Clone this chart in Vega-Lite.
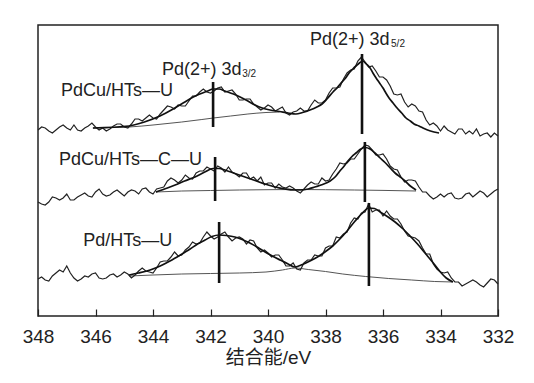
{
  "$schema": "https://vega.github.io/schema/vega-lite/v6.json",
  "width": 460,
  "height": 291,
  "autosize": {"type": "none"},
  "padding": {"left": 38, "top": 25, "right": 36, "bottom": 67},
  "background": "white",
  "config": {
    "view": {"stroke": "#222", "strokeWidth": 1.5},
    "font": "Liberation Sans"
  },
  "datasets": {
    "raw": [
      {"c":"a","e":348.000,"y":186},{"c":"a","e":347.875,"y":189},{"c":"a","e":347.750,"y":188},{"c":"a","e":347.625,"y":185},{"c":"a","e":347.500,"y":183},{"c":"a","e":347.375,"y":186},{"c":"a","e":347.250,"y":189},{"c":"a","e":347.125,"y":191},{"c":"a","e":347.000,"y":188},{"c":"a","e":346.875,"y":186},
      {"c":"a","e":346.750,"y":191},{"c":"a","e":346.625,"y":186},{"c":"a","e":346.500,"y":185},{"c":"a","e":346.375,"y":188},{"c":"a","e":346.250,"y":190},{"c":"a","e":346.125,"y":193},{"c":"a","e":346.000,"y":189},{"c":"a","e":345.875,"y":186},{"c":"a","e":345.750,"y":188},{"c":"a","e":345.625,"y":185},
      {"c":"a","e":345.500,"y":187},{"c":"a","e":345.375,"y":190},{"c":"a","e":345.250,"y":192},{"c":"a","e":345.125,"y":192},{"c":"a","e":345.000,"y":189},{"c":"a","e":344.875,"y":188},{"c":"a","e":344.750,"y":192},{"c":"a","e":344.625,"y":197},{"c":"a","e":344.500,"y":197},{"c":"a","e":344.375,"y":195},
      {"c":"a","e":344.250,"y":198},{"c":"a","e":344.125,"y":201},{"c":"a","e":344.000,"y":198},{"c":"a","e":343.875,"y":197},{"c":"a","e":343.750,"y":202},{"c":"a","e":343.625,"y":206},{"c":"a","e":343.500,"y":210},{"c":"a","e":343.375,"y":209},{"c":"a","e":343.250,"y":207},{"c":"a","e":343.125,"y":211},
      {"c":"a","e":343.000,"y":210},{"c":"a","e":342.875,"y":210},{"c":"a","e":342.750,"y":215},{"c":"a","e":342.625,"y":220},{"c":"a","e":342.500,"y":220},{"c":"a","e":342.375,"y":224},{"c":"a","e":342.250,"y":227},{"c":"a","e":342.125,"y":224},{"c":"a","e":342.000,"y":223},{"c":"a","e":341.875,"y":225},
      {"c":"a","e":341.750,"y":228},{"c":"a","e":341.625,"y":229},{"c":"a","e":341.500,"y":224},{"c":"a","e":341.375,"y":225},{"c":"a","e":341.250,"y":226},{"c":"a","e":341.125,"y":222},{"c":"a","e":341.000,"y":216},{"c":"a","e":340.875,"y":216},{"c":"a","e":340.750,"y":217},{"c":"a","e":340.625,"y":217},
      {"c":"a","e":340.500,"y":212},{"c":"a","e":340.375,"y":209},{"c":"a","e":340.250,"y":206},{"c":"a","e":340.125,"y":208},{"c":"a","e":340.000,"y":211},{"c":"a","e":339.875,"y":209},{"c":"a","e":339.750,"y":205},{"c":"a","e":339.625,"y":207},{"c":"a","e":339.500,"y":209},{"c":"a","e":339.375,"y":203},
      {"c":"a","e":339.250,"y":201},{"c":"a","e":339.125,"y":204},{"c":"a","e":339.000,"y":205},{"c":"a","e":338.875,"y":208},{"c":"a","e":338.750,"y":205},{"c":"a","e":338.625,"y":205},{"c":"a","e":338.500,"y":211},{"c":"a","e":338.375,"y":216},{"c":"a","e":338.250,"y":213},{"c":"a","e":338.125,"y":213},
      {"c":"a","e":338.000,"y":216},{"c":"a","e":337.875,"y":223},{"c":"a","e":337.750,"y":228},{"c":"a","e":337.625,"y":228},{"c":"a","e":337.500,"y":229},{"c":"a","e":337.375,"y":237},{"c":"a","e":337.250,"y":243},{"c":"a","e":337.125,"y":246},{"c":"a","e":337.000,"y":247},{"c":"a","e":336.875,"y":255},
      {"c":"a","e":336.750,"y":259},{"c":"a","e":336.625,"y":254},{"c":"a","e":336.500,"y":249},{"c":"a","e":336.375,"y":250},{"c":"a","e":336.250,"y":245},{"c":"a","e":336.125,"y":239},{"c":"a","e":336.000,"y":239},{"c":"a","e":335.875,"y":236},{"c":"a","e":335.750,"y":230},{"c":"a","e":335.625,"y":222},
      {"c":"a","e":335.500,"y":221},{"c":"a","e":335.375,"y":222},{"c":"a","e":335.250,"y":214},{"c":"a","e":335.125,"y":209},{"c":"a","e":335.000,"y":212},{"c":"a","e":334.875,"y":210},{"c":"a","e":334.750,"y":205},{"c":"a","e":334.625,"y":204},{"c":"a","e":334.500,"y":196},{"c":"a","e":334.375,"y":191},
      {"c":"a","e":334.250,"y":193},{"c":"a","e":334.125,"y":190},{"c":"a","e":334.000,"y":185},{"c":"a","e":333.875,"y":190},{"c":"a","e":333.750,"y":186},{"c":"a","e":333.625,"y":184},{"c":"a","e":333.500,"y":182},{"c":"a","e":333.375,"y":187},{"c":"a","e":333.250,"y":187},{"c":"a","e":333.125,"y":182},
      {"c":"a","e":333.000,"y":185},{"c":"a","e":332.875,"y":182},{"c":"a","e":332.750,"y":187},{"c":"a","e":332.625,"y":180},{"c":"a","e":332.500,"y":182},{"c":"a","e":332.375,"y":183},{"c":"a","e":332.250,"y":179},{"c":"a","e":332.125,"y":183},{"c":"a","e":332.000,"y":180},
      {"c":"b","e":348.000,"y":114},{"c":"b","e":347.875,"y":112},{"c":"b","e":347.750,"y":111},{"c":"b","e":347.625,"y":114},{"c":"b","e":347.500,"y":119},{"c":"b","e":347.375,"y":118},{"c":"b","e":347.250,"y":116},{"c":"b","e":347.125,"y":118},{"c":"b","e":347.000,"y":122},{"c":"b","e":346.875,"y":116},
      {"c":"b","e":346.750,"y":116},{"c":"b","e":346.625,"y":119},{"c":"b","e":346.500,"y":121},{"c":"b","e":346.375,"y":123},{"c":"b","e":346.250,"y":120},{"c":"b","e":346.125,"y":119},{"c":"b","e":346.000,"y":124},{"c":"b","e":345.875,"y":127},{"c":"b","e":345.750,"y":122},{"c":"b","e":345.625,"y":120},
      {"c":"b","e":345.500,"y":121},{"c":"b","e":345.375,"y":124},{"c":"b","e":345.250,"y":126},{"c":"b","e":345.125,"y":123},{"c":"b","e":345.000,"y":120},{"c":"b","e":344.875,"y":124},{"c":"b","e":344.750,"y":126},{"c":"b","e":344.625,"y":125},{"c":"b","e":344.500,"y":122},{"c":"b","e":344.375,"y":127},
      {"c":"b","e":344.250,"y":128},{"c":"b","e":344.125,"y":124},{"c":"b","e":344.000,"y":122},{"c":"b","e":343.875,"y":127},{"c":"b","e":343.750,"y":128},{"c":"b","e":343.625,"y":129},{"c":"b","e":343.500,"y":135},{"c":"b","e":343.375,"y":138},{"c":"b","e":343.250,"y":136},{"c":"b","e":343.125,"y":133},
      {"c":"b","e":343.000,"y":136},{"c":"b","e":342.875,"y":141},{"c":"b","e":342.750,"y":138},{"c":"b","e":342.625,"y":137},{"c":"b","e":342.500,"y":143},{"c":"b","e":342.375,"y":145},{"c":"b","e":342.250,"y":145},{"c":"b","e":342.125,"y":149},{"c":"b","e":342.000,"y":147},{"c":"b","e":341.875,"y":145},
      {"c":"b","e":341.750,"y":150},{"c":"b","e":341.625,"y":148},{"c":"b","e":341.500,"y":144},{"c":"b","e":341.375,"y":149},{"c":"b","e":341.250,"y":144},{"c":"b","e":341.125,"y":142},{"c":"b","e":341.000,"y":139},{"c":"b","e":340.875,"y":143},{"c":"b","e":340.750,"y":143},{"c":"b","e":340.625,"y":137},
      {"c":"b","e":340.500,"y":139},{"c":"b","e":340.375,"y":135},{"c":"b","e":340.250,"y":139},{"c":"b","e":340.125,"y":131},{"c":"b","e":340.000,"y":133},{"c":"b","e":339.875,"y":133},{"c":"b","e":339.750,"y":128},{"c":"b","e":339.625,"y":132},{"c":"b","e":339.500,"y":129},{"c":"b","e":339.375,"y":128},
      {"c":"b","e":339.250,"y":130},{"c":"b","e":339.125,"y":128},{"c":"b","e":339.000,"y":125},{"c":"b","e":338.875,"y":123},{"c":"b","e":338.750,"y":127},{"c":"b","e":338.625,"y":131},{"c":"b","e":338.500,"y":134},{"c":"b","e":338.375,"y":132},{"c":"b","e":338.250,"y":132},{"c":"b","e":338.125,"y":138},
      {"c":"b","e":338.000,"y":135},{"c":"b","e":337.875,"y":136},{"c":"b","e":337.750,"y":142},{"c":"b","e":337.625,"y":147},{"c":"b","e":337.500,"y":153},{"c":"b","e":337.375,"y":152},{"c":"b","e":337.250,"y":153},{"c":"b","e":337.125,"y":157},{"c":"b","e":337.000,"y":157},{"c":"b","e":336.875,"y":162},
      {"c":"b","e":336.750,"y":167},{"c":"b","e":336.625,"y":171},{"c":"b","e":336.500,"y":170},{"c":"b","e":336.375,"y":166},{"c":"b","e":336.250,"y":161},{"c":"b","e":336.125,"y":161},{"c":"b","e":336.000,"y":162},{"c":"b","e":335.875,"y":157},{"c":"b","e":335.750,"y":150},{"c":"b","e":335.625,"y":147},
      {"c":"b","e":335.500,"y":146},{"c":"b","e":335.375,"y":139},{"c":"b","e":335.250,"y":134},{"c":"b","e":335.125,"y":136},{"c":"b","e":335.000,"y":136},{"c":"b","e":334.875,"y":135},{"c":"b","e":334.750,"y":129},{"c":"b","e":334.625,"y":124},{"c":"b","e":334.500,"y":124},{"c":"b","e":334.375,"y":120},
      {"c":"b","e":334.250,"y":117},{"c":"b","e":334.125,"y":119},{"c":"b","e":334.000,"y":122},{"c":"b","e":333.875,"y":119},{"c":"b","e":333.750,"y":122},{"c":"b","e":333.625,"y":123},{"c":"b","e":333.500,"y":118},{"c":"b","e":333.375,"y":117},{"c":"b","e":333.250,"y":118},{"c":"b","e":333.125,"y":122},
      {"c":"b","e":333.000,"y":123},{"c":"b","e":332.875,"y":119},{"c":"b","e":332.750,"y":122},{"c":"b","e":332.625,"y":125},{"c":"b","e":332.500,"y":123},{"c":"b","e":332.375,"y":119},{"c":"b","e":332.250,"y":122},{"c":"b","e":332.125,"y":125},{"c":"b","e":332.000,"y":127},
      {"c":"c","e":348.000,"y":37},{"c":"c","e":347.875,"y":39},{"c":"c","e":347.750,"y":36},{"c":"c","e":347.625,"y":35},{"c":"c","e":347.500,"y":40},{"c":"c","e":347.375,"y":43},{"c":"c","e":347.250,"y":46},{"c":"c","e":347.125,"y":44},{"c":"c","e":347.000,"y":50},{"c":"c","e":346.875,"y":43},
      {"c":"c","e":346.750,"y":38},{"c":"c","e":346.625,"y":35},{"c":"c","e":346.500,"y":37},{"c":"c","e":346.375,"y":40},{"c":"c","e":346.250,"y":39},{"c":"c","e":346.125,"y":42},{"c":"c","e":346.000,"y":43},{"c":"c","e":345.875,"y":38},{"c":"c","e":345.750,"y":37},{"c":"c","e":345.625,"y":38},
      {"c":"c","e":345.500,"y":41},{"c":"c","e":345.375,"y":42},{"c":"c","e":345.250,"y":39},{"c":"c","e":345.125,"y":41},{"c":"c","e":345.000,"y":44},{"c":"c","e":344.875,"y":42},{"c":"c","e":344.750,"y":38},{"c":"c","e":344.625,"y":41},{"c":"c","e":344.500,"y":45},{"c":"c","e":344.375,"y":48},
      {"c":"c","e":344.250,"y":45},{"c":"c","e":344.125,"y":44},{"c":"c","e":344.000,"y":43},{"c":"c","e":343.875,"y":48},{"c":"c","e":343.750,"y":54},{"c":"c","e":343.625,"y":55},{"c":"c","e":343.500,"y":55},{"c":"c","e":343.375,"y":59},{"c":"c","e":343.250,"y":64},{"c":"c","e":343.125,"y":60},
      {"c":"c","e":343.000,"y":61},{"c":"c","e":342.875,"y":66},{"c":"c","e":342.750,"y":69},{"c":"c","e":342.625,"y":74},{"c":"c","e":342.500,"y":72},{"c":"c","e":342.375,"y":73},{"c":"c","e":342.250,"y":79},{"c":"c","e":342.125,"y":84},{"c":"c","e":342.000,"y":80},{"c":"c","e":341.875,"y":77},
      {"c":"c","e":341.750,"y":79},{"c":"c","e":341.625,"y":82},{"c":"c","e":341.500,"y":84},{"c":"c","e":341.375,"y":79},{"c":"c","e":341.250,"y":75},{"c":"c","e":341.125,"y":78},{"c":"c","e":341.000,"y":79},{"c":"c","e":340.875,"y":77},{"c":"c","e":340.750,"y":72},{"c":"c","e":340.625,"y":76},
      {"c":"c","e":340.500,"y":75},{"c":"c","e":340.375,"y":68},{"c":"c","e":340.250,"y":64},{"c":"c","e":340.125,"y":66},{"c":"c","e":340.000,"y":63},{"c":"c","e":339.875,"y":59},{"c":"c","e":339.750,"y":61},{"c":"c","e":339.625,"y":61},{"c":"c","e":339.500,"y":56},{"c":"c","e":339.375,"y":50},
      {"c":"c","e":339.250,"y":50},{"c":"c","e":339.125,"y":53},{"c":"c","e":339.000,"y":47},{"c":"c","e":338.875,"y":46},{"c":"c","e":338.750,"y":53},{"c":"c","e":338.625,"y":56},{"c":"c","e":338.500,"y":56},{"c":"c","e":338.375,"y":61},{"c":"c","e":338.250,"y":60},{"c":"c","e":338.125,"y":60},
      {"c":"c","e":338.000,"y":68},{"c":"c","e":337.875,"y":70},{"c":"c","e":337.750,"y":70},{"c":"c","e":337.625,"y":79},{"c":"c","e":337.500,"y":78},{"c":"c","e":337.375,"y":82},{"c":"c","e":337.250,"y":84},{"c":"c","e":337.125,"y":93},{"c":"c","e":337.000,"y":98},{"c":"c","e":336.875,"y":97},
      {"c":"c","e":336.750,"y":103},{"c":"c","e":336.625,"y":104},{"c":"c","e":336.500,"y":112},{"c":"c","e":336.375,"y":104},{"c":"c","e":336.250,"y":106},{"c":"c","e":336.125,"y":106},{"c":"c","e":336.000,"y":100},{"c":"c","e":335.875,"y":105},{"c":"c","e":335.750,"y":100},{"c":"c","e":335.625,"y":97},
      {"c":"c","e":335.500,"y":97},{"c":"c","e":335.375,"y":92},{"c":"c","e":335.250,"y":85},{"c":"c","e":335.125,"y":80},{"c":"c","e":335.000,"y":79},{"c":"c","e":334.875,"y":78},{"c":"c","e":334.750,"y":75},{"c":"c","e":334.625,"y":68},{"c":"c","e":334.500,"y":62},{"c":"c","e":334.375,"y":62},
      {"c":"c","e":334.250,"y":52},{"c":"c","e":334.125,"y":47},{"c":"c","e":334.000,"y":44},{"c":"c","e":333.875,"y":43},{"c":"c","e":333.750,"y":44},{"c":"c","e":333.625,"y":38},{"c":"c","e":333.500,"y":34},{"c":"c","e":333.375,"y":34},{"c":"c","e":333.250,"y":30},{"c":"c","e":333.125,"y":32},
      {"c":"c","e":333.000,"y":34},{"c":"c","e":332.875,"y":36},{"c":"c","e":332.750,"y":34},{"c":"c","e":332.625,"y":31},{"c":"c","e":332.500,"y":29},{"c":"c","e":332.375,"y":33},{"c":"c","e":332.250,"y":37},{"c":"c","e":332.125,"y":36},{"c":"c","e":332.000,"y":32}
    ],
    "fit": [
      {"c":"a","e":346.09,"y":188},{"c":"a","e":344.83,"y":190},{"c":"a","e":344.3,"y":194},{"c":"a","e":343.76,"y":200},{"c":"a","e":343.3,"y":207},{"c":"a","e":342.89,"y":214},{"c":"a","e":342.6,"y":219},{"c":"a","e":342.37,"y":222},{"c":"a","e":342.1,"y":225},{"c":"a","e":341.91,"y":227},{"c":"a","e":341.7,"y":227},{"c":"a","e":341.5,"y":225},{"c":"a","e":341.2,"y":222},{"c":"a","e":340.97,"y":219},{"c":"a","e":340.7,"y":215},{"c":"a","e":340.45,"y":211},{"c":"a","e":340.2,"y":208},{"c":"a","e":339.93,"y":206},{"c":"a","e":339.6,"y":204.5},{"c":"a","e":339.3,"y":203},{"c":"a","e":339.03,"y":202},{"c":"a","e":338.8,"y":203.5},{"c":"a","e":338.54,"y":206},{"c":"a","e":338.3,"y":209},{"c":"a","e":338.12,"y":212},{"c":"a","e":337.95,"y":217},{"c":"a","e":337.74,"y":224},{"c":"a","e":337.6,"y":228},{"c":"a","e":337.46,"y":233},{"c":"a","e":337.3,"y":238},{"c":"a","e":337.18,"y":243},{"c":"a","e":337.05,"y":247},{"c":"a","e":336.94,"y":250},{"c":"a","e":336.82,"y":253},{"c":"a","e":336.7,"y":255},{"c":"a","e":336.58,"y":252},{"c":"a","e":336.45,"y":248},{"c":"a","e":336.35,"y":243},{"c":"a","e":336.24,"y":238},{"c":"a","e":336.12,"y":233},{"c":"a","e":336.0,"y":228},{"c":"a","e":335.9,"y":223},{"c":"a","e":335.79,"y":218},{"c":"a","e":335.65,"y":213},{"c":"a","e":335.51,"y":208},{"c":"a","e":335.35,"y":203},{"c":"a","e":335.2,"y":198},{"c":"a","e":335.05,"y":195},{"c":"a","e":334.92,"y":192},{"c":"a","e":334.75,"y":190},{"c":"a","e":334.61,"y":188},{"c":"a","e":334.35,"y":185},{"c":"a","e":334.05,"y":183},
      {"c":"b","e":343.9,"y":124},{"c":"b","e":343.5,"y":128},{"c":"b","e":343.23,"y":131},{"c":"b","e":342.9,"y":135},{"c":"b","e":342.54,"y":139},{"c":"b","e":342.2,"y":144},{"c":"b","e":341.91,"y":147.5},{"c":"b","e":341.7,"y":147.5},{"c":"b","e":341.5,"y":146},{"c":"b","e":341.15,"y":142.5},{"c":"b","e":340.8,"y":139},{"c":"b","e":340.45,"y":135.5},{"c":"b","e":340.1,"y":132},{"c":"b","e":339.75,"y":129},{"c":"b","e":339.41,"y":127},{"c":"b","e":339.1,"y":126},{"c":"b","e":338.89,"y":126},{"c":"b","e":338.6,"y":127},{"c":"b","e":338.37,"y":129},{"c":"b","e":338.1,"y":131.5},{"c":"b","e":337.84,"y":135},{"c":"b","e":337.65,"y":139.5},{"c":"b","e":337.5,"y":145},{"c":"b","e":337.35,"y":150},{"c":"b","e":337.22,"y":155},{"c":"b","e":337.08,"y":159.5},{"c":"b","e":336.94,"y":163},{"c":"b","e":336.8,"y":166.5},{"c":"b","e":336.63,"y":168.5},{"c":"b","e":336.45,"y":167},{"c":"b","e":336.28,"y":163},{"c":"b","e":336.1,"y":158},{"c":"b","e":335.93,"y":153.5},{"c":"b","e":335.75,"y":148},{"c":"b","e":335.58,"y":143},{"c":"b","e":335.4,"y":139},{"c":"b","e":335.23,"y":135},{"c":"b","e":335.05,"y":130},{"c":"b","e":334.85,"y":126},
      {"c":"c","e":344.83,"y":41},{"c":"c","e":344.5,"y":43},{"c":"c","e":344.1,"y":46},{"c":"c","e":343.75,"y":50},{"c":"c","e":343.41,"y":55},{"c":"c","e":343.05,"y":61},{"c":"c","e":342.71,"y":67},{"c":"c","e":342.45,"y":72},{"c":"c","e":342.19,"y":76},{"c":"c","e":341.95,"y":79.5},{"c":"c","e":341.7,"y":81},{"c":"c","e":341.45,"y":80.5},{"c":"c","e":341.15,"y":79},{"c":"c","e":340.9,"y":76.5},{"c":"c","e":340.63,"y":73},{"c":"c","e":340.35,"y":68.5},{"c":"c","e":340.1,"y":64},{"c":"c","e":339.85,"y":60},{"c":"c","e":339.58,"y":56},{"c":"c","e":339.3,"y":52},{"c":"c","e":339.06,"y":49},{"c":"c","e":338.8,"y":51.5},{"c":"c","e":338.54,"y":55},{"c":"c","e":338.28,"y":59},{"c":"c","e":338.02,"y":64},{"c":"c","e":337.75,"y":70},{"c":"c","e":337.5,"y":77},{"c":"c","e":337.25,"y":85},{"c":"c","e":336.97,"y":95},{"c":"c","e":336.75,"y":102},{"c":"c","e":336.49,"y":108},{"c":"c","e":336.3,"y":107.5},{"c":"c","e":336.1,"y":104},{"c":"c","e":335.85,"y":99.5},{"c":"c","e":335.58,"y":94},{"c":"c","e":335.32,"y":87.5},{"c":"c","e":335.06,"y":80},{"c":"c","e":334.8,"y":72},{"c":"c","e":334.54,"y":63},{"c":"c","e":334.28,"y":54},{"c":"c","e":334.02,"y":44.5},{"c":"c","e":333.8,"y":38},{"c":"c","e":333.57,"y":34}
    ],
    "bg": [
      {"c":"a","e":346.09,"y":188},{"c":"a","e":345.5,"y":188.5},{"c":"a","e":344.83,"y":189},{"c":"a","e":344.0,"y":191},{"c":"a","e":343.0,"y":194},{"c":"a","e":342.3,"y":196.5},{"c":"a","e":341.9,"y":198},{"c":"a","e":341.3,"y":200},{"c":"a","e":340.7,"y":202},{"c":"a","e":340.07,"y":203.5},{"c":"a","e":339.6,"y":204},
      {"c":"b","e":343.9,"y":124},{"c":"b","e":343.0,"y":125},{"c":"b","e":342.0,"y":125.5},{"c":"b","e":341.0,"y":126},{"c":"b","e":340.0,"y":126.3},{"c":"b","e":339.0,"y":126.5},{"c":"b","e":338.0,"y":126.3},{"c":"b","e":337.0,"y":126},{"c":"b","e":336.0,"y":125.6},{"c":"b","e":334.85,"y":125},
      {"c":"c","e":344.83,"y":40},{"c":"c","e":344.0,"y":41},{"c":"c","e":343.0,"y":42},{"c":"c","e":342.0,"y":42.5},{"c":"c","e":341.0,"y":43},{"c":"c","e":340.07,"y":44},{"c":"c","e":339.5,"y":46},{"c":"c","e":339.06,"y":48},{"c":"c","e":338.6,"y":46.5},{"c":"c","e":338.0,"y":44.5},{"c":"c","e":337.4,"y":42},{"c":"c","e":336.6,"y":39.5},{"c":"c","e":335.8,"y":37.5},{"c":"c","e":335.0,"y":36},{"c":"c","e":334.2,"y":34.5},{"c":"c","e":333.57,"y":34}
    ],
    "pk": [
      {"e":341.91,"y1":234,"y2":189},
      {"e":336.73,"y1":262,"y2":182},
      {"e":341.84,"y1":159,"y2":115},
      {"e":336.63,"y1":174,"y2":114},
      {"e":341.70,"y1":94,"y2":33},
      {"e":336.49,"y1":113,"y2":30}
    ],
    "lbl": [
      {"e":347.2,"y":225.5,"t":"PdCu/HTs—U"},
      {"e":347.27,"y":156.5,"t":"PdCu/HTs—C—U"},
      {"e":346.43,"y":75.5,"t":"Pd/HTs—U"},
      {"e":343.69,"y":246.5,"t":"Pd(2+) 3d"},
      {"e":338.54,"y":276,"t":"Pd(2+) 3d"}
    ],
    "sub": [
      {"e":340.9,"y":242.5,"t":"3/2"},
      {"e":335.72,"y":272,"t":"5/2"}
    ]
  },
  "encoding": {
    "x": {
      "field": "e", "type": "quantitative",
      "scale": {"domain": [348, 332], "nice": false, "zero": false},
      "axis": {
        "title": "结合能/eV",
        "values": [348, 346, 344, 342, 340, 338, 336, 334, 332],
        "format": "d",
        "domain": false,
        "grid": false,
        "tickSize": -7,
        "tickWidth": 1.2,
        "tickColor": "#222",
        "labelPadding": 18,
        "labelFont": "Liberation Sans",
        "labelFontSize": 19,
        "labelColor": "#222",
        "labelFlush": false,
        "labelOverlap": false,
        "titleFont": "Liberation Sans, Noto Sans CJK SC",
        "titleFontSize": 19,
        "titleFontWeight": "normal",
        "titleColor": "#222",
        "titleBaseline": "top",
        "titleY": 32
      }
    }
  },
  "layer": [
    {
      "data": {"name": "bg"},
      "mark": {"type": "line", "color": "#555", "strokeWidth": 1, "interpolate": "monotone"},
      "encoding": {
        "y": {"field": "y", "type": "quantitative", "scale": {"domain": [0, 291], "nice": false, "zero": false}, "axis": null},
        "detail": {"field": "c"}
      }
    },
    {
      "data": {"name": "raw"},
      "mark": {"type": "line", "color": "#222", "strokeWidth": 1.2},
      "encoding": {
        "y": {"field": "y", "type": "quantitative"},
        "detail": {"field": "c"}
      }
    },
    {
      "data": {"name": "fit"},
      "mark": {"type": "line", "color": "#111", "strokeWidth": 1.7, "interpolate": "monotone"},
      "encoding": {
        "y": {"field": "y", "type": "quantitative"},
        "detail": {"field": "c"}
      }
    },
    {
      "data": {"name": "pk"},
      "mark": {"type": "rule", "color": "#111", "strokeWidth": 2.6},
      "encoding": {
        "y": {"field": "y1", "type": "quantitative"},
        "y2": {"field": "y2"}
      }
    },
    {
      "data": {"name": "lbl"},
      "mark": {"type": "text", "align": "left", "baseline": "middle", "font": "Liberation Sans", "fontSize": 18, "color": "#222"},
      "encoding": {
        "y": {"field": "y", "type": "quantitative"},
        "text": {"field": "t"}
      }
    },
    {
      "data": {"name": "sub"},
      "mark": {"type": "text", "align": "left", "baseline": "middle", "font": "Liberation Sans", "fontSize": 10, "color": "#222"},
      "encoding": {
        "y": {"field": "y", "type": "quantitative"},
        "text": {"field": "t"}
      }
    }
  ]
}
